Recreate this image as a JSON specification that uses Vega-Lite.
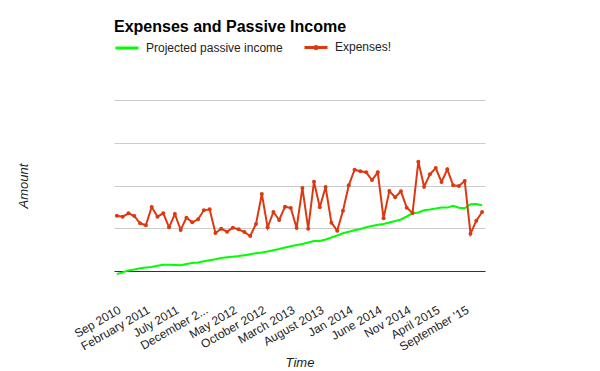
{
  "$schema": "https://vega.github.io/schema/vega-lite/v6.json",
  "autosize": "none",
  "width": 371,
  "height": 171,
  "padding": {"left": 114, "top": 100, "right": 115, "bottom": 100},
  "background": "white",
  "config": {
    "view": {"stroke": null},
    "font": "Liberation Sans",
    "axis": {"labelFont": "Liberation Sans", "titleFont": "Liberation Sans"}
  },
  "title": {
    "text": "Expenses and Passive Income",
    "anchor": "start",
    "frame": "group",
    "fontSize": 16,
    "fontWeight": "bold",
    "color": "#000000",
    "font": "Liberation Sans",
    "offset": -1
  },
  "data": {
    "values": [
      {"month": "Sep 2010", "income": -70, "expenses": 1294},
      {"month": "Oct 2010", "income": -33, "expenses": 1270},
      {"month": "Nov 2010", "income": 14, "expenses": 1350},
      {"month": "Dec 2010", "income": 35, "expenses": 1287},
      {"month": "Jan 2011", "income": 63, "expenses": 1116},
      {"month": "February 2011", "income": 80, "expenses": 1069},
      {"month": "Mar 2011", "income": 94, "expenses": 1497},
      {"month": "Apr 2011", "income": 122, "expenses": 1270},
      {"month": "May 2011", "income": 147, "expenses": 1350},
      {"month": "Jun 2011", "income": 145, "expenses": 1022},
      {"month": "July 2011", "income": 140, "expenses": 1333},
      {"month": "Aug 2011", "income": 136, "expenses": 959},
      {"month": "Sep 2011", "income": 164, "expenses": 1247},
      {"month": "Oct 2011", "income": 187, "expenses": 1139},
      {"month": "Nov 2011", "income": 199, "expenses": 1209},
      {"month": "December 2011", "income": 227, "expenses": 1420},
      {"month": "Jan 2012", "income": 250, "expenses": 1443},
      {"month": "Feb 2012", "income": 274, "expenses": 889},
      {"month": "Mar 2012", "income": 304, "expenses": 989},
      {"month": "Apr 2012", "income": 323, "expenses": 919},
      {"month": "May 2012", "income": 335, "expenses": 1013},
      {"month": "Jun 2012", "income": 349, "expenses": 975},
      {"month": "Jul 2012", "income": 370, "expenses": 912},
      {"month": "Aug 2012", "income": 393, "expenses": 819},
      {"month": "Sep 2012", "income": 416, "expenses": 1099},
      {"month": "October 2012", "income": 435, "expenses": 1801},
      {"month": "Nov 2012", "income": 458, "expenses": 1022},
      {"month": "Dec 2012", "income": 487, "expenses": 1380},
      {"month": "Jan 2013", "income": 515, "expenses": 1193},
      {"month": "Feb 2013", "income": 550, "expenses": 1504},
      {"month": "March 2013", "income": 580, "expenses": 1474},
      {"month": "Apr 2013", "income": 608, "expenses": 1006},
      {"month": "May 2013", "income": 632, "expenses": 1942},
      {"month": "Jun 2013", "income": 667, "expenses": 989},
      {"month": "Jul 2013", "income": 702, "expenses": 2089},
      {"month": "August 2013", "income": 702, "expenses": 1490},
      {"month": "Sep 2013", "income": 737, "expenses": 1965},
      {"month": "Oct 2013", "income": 784, "expenses": 1130},
      {"month": "Nov 2013", "income": 830, "expenses": 943},
      {"month": "Dec 2013", "income": 884, "expenses": 1411},
      {"month": "Jan 2014", "income": 919, "expenses": 2005},
      {"month": "Feb 2014", "income": 952, "expenses": 2370},
      {"month": "Mar 2014", "income": 982, "expenses": 2332},
      {"month": "Apr 2014", "income": 1022, "expenses": 2309},
      {"month": "May 2014", "income": 1053, "expenses": 2129},
      {"month": "June 2014", "income": 1081, "expenses": 2309},
      {"month": "Jul 2014", "income": 1099, "expenses": 1233},
      {"month": "Aug 2014", "income": 1135, "expenses": 1871},
      {"month": "Sep 2014", "income": 1170, "expenses": 1724},
      {"month": "Oct 2014", "income": 1205, "expenses": 1864},
      {"month": "Nov 2014", "income": 1275, "expenses": 1481},
      {"month": "Dec 2014", "income": 1350, "expenses": 1357},
      {"month": "Jan 2015", "income": 1368, "expenses": 2557},
      {"month": "Feb 2015", "income": 1422, "expenses": 1972},
      {"month": "Mar 2015", "income": 1439, "expenses": 2262},
      {"month": "April 2015", "income": 1460, "expenses": 2409},
      {"month": "May 2015", "income": 1485, "expenses": 2082},
      {"month": "Jun 2015", "income": 1483, "expenses": 2379},
      {"month": "Jul 2015", "income": 1525, "expenses": 2005},
      {"month": "Aug 2015", "income": 1478, "expenses": 1988},
      {"month": "September '15", "income": 1467, "expenses": 2105},
      {"month": "Oct 2015", "income": 1560, "expenses": 873},
      {"month": "Nov 2015", "income": 1567, "expenses": 1177},
      {"month": "Dec 2015", "income": 1537, "expenses": 1380}
    ]
  },
  "transform": [
    {"fold": ["income", "expenses"], "as": ["series", "value"]}
  ],
  "encoding": {
    "x": {
      "field": "month",
      "type": "ordinal",
      "sort": null,
      "scale": {"type": "point", "padding": 0.5},
      "axis": {
        "title": "Time",
        "titleFontStyle": "italic",
        "titleFontWeight": "normal",
        "titleFontSize": 13,
        "titleColor": "#222222",
        "titleBaseline": "middle",
        "titleY": 91,
        "values": ["Sep 2010", "February 2011", "July 2011", "December 2011", "May 2012", "October 2012", "March 2013", "August 2013", "Jan 2014", "June 2014", "Nov 2014", "April 2015", "September '15"],
        "labelExpr": "datum.label == 'December 2011' ? 'December 2...' : datum.label",
        "labelAngle": -30,
        "labelAlign": "right",
        "labelBaseline": "top",
        "labelPadding": 33,
        "labelFontSize": 12,
        "labelColor": "#222222",
        "labelOverlap": false,
        "labelLimit": 0,
        "ticks": false,
        "grid": false,
        "domain": true,
        "domainColor": "#333333",
        "domainWidth": 1
      }
    },
    "y": {
      "field": "value",
      "type": "quantitative",
      "scale": {"domain": [0, 4000], "nice": false},
      "axis": {
        "title": "Amount",
        "titleFontStyle": "italic",
        "titleFontWeight": "normal",
        "titleFontSize": 13,
        "titleColor": "#222222",
        "titleX": -91,
        "titleBaseline": "middle",
        "values": [1000, 2000, 3000, 4000],
        "labels": false,
        "ticks": false,
        "domain": false,
        "grid": true,
        "gridColor": "#cccccc",
        "gridWidth": 1
      }
    },
    "color": {
      "field": "series",
      "type": "nominal",
      "scale": {"domain": ["income", "expenses"], "range": ["#00ff00", "#dc3912"]},
      "legend": {
        "title": null,
        "orient": "none",
        "legendX": 0,
        "legendY": -66,
        "direction": "horizontal",
        "symbolType": "stroke",
        "symbolSize": 529,
        "symbolStrokeWidth": 3,
        "labelFontSize": 12,
        "labelColor": "#222222",
        "labelFont": "Liberation Sans",
        "labelOffset": 6,
        "columnPadding": 15,
        "padding": 0,
        "labelExpr": "datum.label == 'income' ? 'Projected passive income' : 'Expenses!'",
        "encode": {
          "symbols": {
            "update": {
              "shape": {"signal": "datum.value == 'expenses' ? 'M-1,0H1M0.09,0A0.09,0.09 0 1,1 -0.09,0A0.09,0.09 0 1,1 0.09,0' : 'stroke'"}
            }
          }
        }
      }
    }
  },
  "layer": [
    {
      "mark": {"type": "line", "strokeWidth": 2, "clip": false},
      "encoding": {"order": {"value": null}}
    },
    {
      "transform": [{"filter": "datum.series == 'expenses'"}],
      "mark": {"type": "circle", "size": 16, "opacity": 1},
      "encoding": {"color": {"field": "series", "type": "nominal", "legend": null}}
    }
  ]
}
